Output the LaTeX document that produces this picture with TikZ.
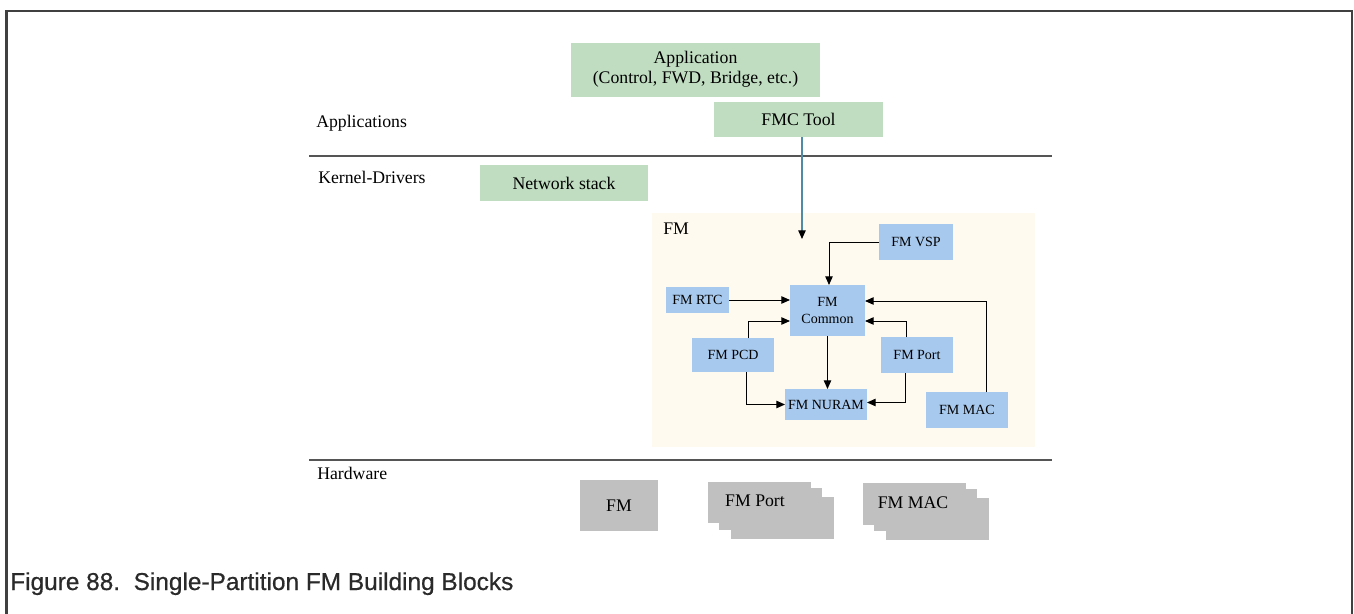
\documentclass[tikz,border=0pt]{standalone}
\usepackage{fontspec}
\setmainfont{Liberation Serif}
\newfontfamily\capfont[FakeBold=0.6]{Liberation Sans}
\usetikzlibrary{arrows.meta,calc}
\definecolor{grn}{HTML}{C0DDC1}
\definecolor{blu}{HTML}{A7C9EE}
\definecolor{crm}{HTML}{FFFAEF}
\definecolor{hwg}{HTML}{C0C0C0}
\definecolor{frm}{HTML}{404040}
\definecolor{sep}{HTML}{555555}
\definecolor{lnk}{HTML}{4F8BA6}
\definecolor{capc}{HTML}{2A2A2A}
\tikzset{
  bx/.style 2 args={minimum width=#1*0.75pt, minimum height=#2*0.75pt, inner sep=0pt, outer sep=0pt},
  gbox/.style={fill=grn, font=\fontsize{13.3}{15}\selectfont, align=center},
  bbox/.style={fill=blu, font=\fontsize{10.5}{12.75}\selectfont, align=center},
  hbox/.style={fill=hwg, font=\fontsize{13.3}{15}\selectfont},
  lbl/.style={anchor=west, inner sep=0pt, font=\fontsize{13.3}{15}\selectfont},
  con/.style={draw=black, line width=0.75pt, -{Triangle[length=6.5pt,width=5.6pt]}},
}
\begin{document}
\begin{tikzpicture}[x=0.75pt,y=-0.75pt]
\useasboundingbox (0,0) rectangle (1354,614);
% frame
\draw[frm, line width=1.6pt] (6.5,614) -- (6.5,11) -- (1352,11) -- (1352,614);
% separators
\draw[sep, line width=1.1pt] (309,156) -- (1052,156);
\draw[sep, line width=1.1pt] (309,460) -- (1052,460);
% layer labels
\node[lbl] (lapp) at (316,123) {Applications};
\node[lbl] (lker) at (318,177) {Kernel-Drivers};
\node[lbl] (lhw) at (317,473) {Hardware};
% application layer
\node[gbox, bx={249}{54}] (app) at (695.5,69.5) {Application\\(Control, FWD, Bridge, etc.)};
\node[gbox, bx={169}{35}] (fmc) at (798.5,119.5) {FMC Tool};
% kernel layer
\node[gbox, bx={168}{36}] (net) at (564,183) {Network stack};
\fill[crm] (652,213) rectangle (1035,447);
\node[lbl] (lfm) at (663,229) {FM};
\node[bbox, bx={74}{36}] (vsp) at (916,242) {FM VSP};
\node[bbox, bx={63}{26}] (rtc) at (697.5,300) {FM RTC};
\node[bbox, bx={75}{51}] (common) at (827.5,310.5) {FM\\Common};
\node[bbox, bx={82}{34}] (pcd) at (733,355) {FM PCD};
\node[bbox, bx={72}{36}] (port) at (917,355) {FM Port};
\node[bbox, bx={82}{31}] (nuram) at (826,404.5) {FM NURAM};
\node[bbox, bx={82}{36}] (mac) at (967,410) {FM MAC};
% FMC arrow
\coordinate (fmend) at (802,239);
\draw[lnk, line width=0.9pt, -{Triangle[length=6.5pt,width=5.6pt,color=black]}] (fmend |- fmc.south) -- (fmend);
% anchor helpers
\coordinate (cwu) at ($(common.west)+(0,-9.5)$);
\coordinate (cwd) at ($(common.west)+(0,10.5)$);
\coordinate (ceu) at ($(common.east)+(0,-9.5)$);
\coordinate (ced) at ($(common.east)+(0,10.5)$);
\coordinate (pcdup) at ($(pcd.north)+(15,0)$);
\coordinate (pcddn) at ($(pcd.south)+(13,0)$);
\coordinate (portup) at ($(port.north)+(-11,0)$);
\coordinate (portdn) at ($(port.south)+(-12,0)$);
\coordinate (macup) at ($(mac.north)+(19,0)$);
\coordinate (nwest) at ($(nuram.west)+(0,0)$);
\coordinate (neast) at ($(nuram.east)+(0,-2)$);
\coordinate (cnorth) at ($(common.north)+(1.5,0)$);
% connectors
\draw[con] (vsp.west) -| (cnorth);
\draw[con] (rtc.east) -- (rtc.east -| common.west);
\draw[con] (pcdup) |- (cwd);
\draw[con] (pcddn) |- (nwest);
\draw[con] (common.south) -- (common.south |- nuram.north);
\draw[con] (portup) |- (ced);
\draw[con] (portdn) |- (neast);
\draw[con] (macup) |- (ceu);
% hardware
\node[hbox, bx={78}{51}] (hwfm) at (619,505.5) {FM};
\fill[hwg] (731,497) rectangle (834,539);
\fill[hwg] (719,488) rectangle (822,530);
\fill[hwg] (708,482) rectangle (811,523);
\node[font=\fontsize{13.3}{15}\selectfont, inner sep=0pt] (hwport) at (755,501) {FM Port};
\fill[hwg] (886,498) rectangle (989,540);
\fill[hwg] (874,489) rectangle (977,531);
\fill[hwg] (863,483) rectangle (966,525);
\node[font=\fontsize{13.3}{15}\selectfont, inner sep=0pt] (hwmac) at (913,503) {FM MAC};
% caption
\node[anchor=base west, inner sep=0pt, text=capc, font=\capfont\fontsize{18.3}{22}\selectfont] (cap) at (10,590) {Figure 88.\ \ Single-Partition FM Building Blocks};
\end{tikzpicture}
\end{document}
